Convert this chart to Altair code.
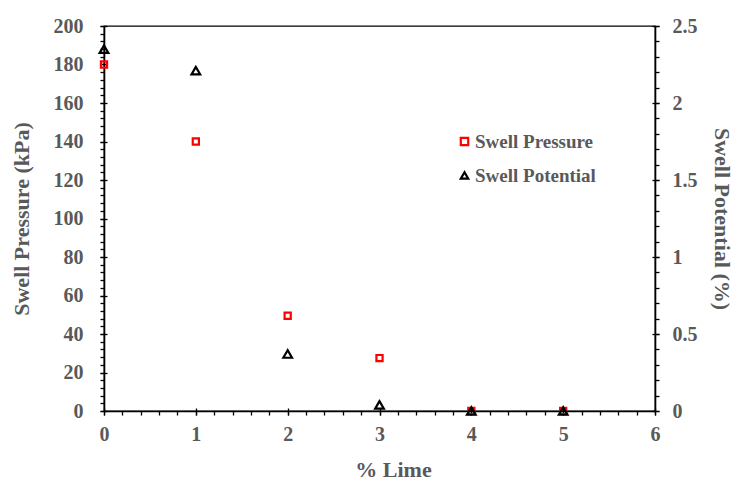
import altair as alt
import pandas as pd

# ---- data ----
lime = [0, 1, 2, 3, 4, 5]
swell_pressure = [180, 140, 49.5, 27.5, 0, 0]
swell_potential = [2.35, 2.21, 0.37, 0.04, 0, 0]
series = ["Swell Pressure", "Swell Potential"]

# axis tick values
x_major = [0, 1, 2, 3, 4, 5, 6]
x_minor = [round(i * 0.2, 1) for i in range(31)]
left_major = list(range(0, 201, 20))
left_minor = list(range(0, 201, 4))
right_major = [0, 0.5, 1, 1.5, 2, 2.5]
right_minor = [round(i * 0.1, 1) for i in range(26)]

W, H = 551, 385
GRAY = "#595959"
FONT = "Liberation Serif"

df_p = pd.DataFrame({"lime": lime, "val": swell_pressure, "series": series[0]})
df_q = pd.DataFrame({"lime": lime, "val": swell_potential, "series": series[1]})

xs = alt.Scale(domain=[0, 6], nice=False, zero=False)
ys_p = alt.Scale(domain=[0, 200], nice=False)
ys_q = alt.Scale(domain=[0, 2.5], nice=False)

legend = alt.Legend(title=None, orient="none", legendX=351, legendY=106,
                    padding=0, labelOffset=1, rowPadding=14,
                    symbolSize=55, symbolStrokeWidth=2.2, symbolFillColor="white",
                    labelFont=FONT, labelFontSize=19, labelFontWeight="bold",
                    labelColor=GRAY)
color = alt.Color("series:N", scale=alt.Scale(domain=series, range=["#ff0000", "#000000"]),
                  legend=legend)
shape = alt.Shape("series:N", scale=alt.Scale(domain=series, range=["square", "triangle-up"]),
                  legend=legend)

no_lab = dict(labels=False, domain=False, title=None, grid=False)

# main layers
pressure = alt.Chart(df_p).mark_point(filled=False, strokeWidth=2.2, size=38, opacity=1).encode(
    x=alt.X("lime:Q", scale=xs,
            axis=alt.Axis(orient="bottom", values=x_major, format="d", tickSize=4,
                          labelPadding=9, labelFlush=False, title="% Lime", titleX=289,
                          titleY=58, titleBaseline="middle")),
    y=alt.Y("val:Q", scale=ys_p,
            axis=alt.Axis(orient="left", values=left_major, format="d", tickSize=4,
                          labelPadding=17, labelFlush=False, title="Swell Pressure (kPa)",
                          titleX=-83, titleY=H / 2, titleAngle=-90, titleBaseline="middle")),
    color=color, shape=shape)

potential = alt.Chart(df_q).mark_point(filled=False, strokeWidth=2.2, size=75, opacity=1).encode(
    x=alt.X("lime:Q", scale=xs, axis=None),
    y=alt.Y("val:Q", scale=ys_q,
            axis=alt.Axis(orient="right", values=right_major, format="~g", tickSize=4,
                          labelPadding=13, labelFlush=False, title="Swell Potential (%)",
                          titleX=66, titleY=H / 2, titleAngle=90, titleBaseline="middle")),
    color=color, shape=shape)

# minor / inward tick layers (invisible marks, axes only)
m1 = alt.Chart(df_p).mark_point(opacity=0).encode(
    x=alt.X("lime:Q", scale=xs, axis=alt.Axis(orient="bottom", values=x_minor, tickSize=4, **no_lab)),
    y=alt.Y("val:Q", scale=ys_p, axis=alt.Axis(orient="left", values=left_minor, tickSize=4, **no_lab)))

m2 = alt.Chart(df_q).mark_point(opacity=0).encode(
    x=alt.X("lime:Q", scale=xs, axis=alt.Axis(orient="top", offset=-H, values=x_major, tickSize=3, **no_lab)),
    y=alt.Y("val:Q", scale=ys_q, axis=alt.Axis(orient="right", values=right_minor, tickSize=4, **no_lab)))

m3 = alt.Chart(df_p).mark_point(opacity=0).encode(
    x=alt.X("lime:Q", scale=xs, axis=None),
    y=alt.Y("val:Q", scale=ys_p, axis=alt.Axis(orient="right", offset=-W, values=left_major, tickSize=3, **no_lab)))

m4 = alt.Chart(df_q).mark_point(opacity=0).encode(
    x=alt.X("lime:Q", scale=xs, axis=None),
    y=alt.Y("val:Q", scale=ys_q, axis=alt.Axis(orient="left", offset=-W, values=right_major, tickSize=3, **no_lab)))

chart = alt.layer(m1, m2, m3, m4, pressure, potential).resolve_scale(
    y="independent"
).resolve_axis(
    x="independent", y="independent"
).properties(
    width=W, height=H,
    autosize=alt.AutoSizeParams(type="none"),
    padding={"left": 96, "top": 18, "right": 78, "bottom": 69},
    background="white",
).configure_view(
    stroke="black", strokeWidth=1.3
).configure_axis(
    labelFont=FONT, labelFontSize=20, labelFontWeight="bold", labelColor=GRAY,
    titleFont=FONT, titleFontSize=22, titleFontWeight="bold", titleColor=GRAY,
    tickColor="black", tickWidth=1.3, domainColor="black", domainWidth=1.6, grid=False,
)

chart.save("out.html", embed_options={"renderer": "svg", "actions": False})
